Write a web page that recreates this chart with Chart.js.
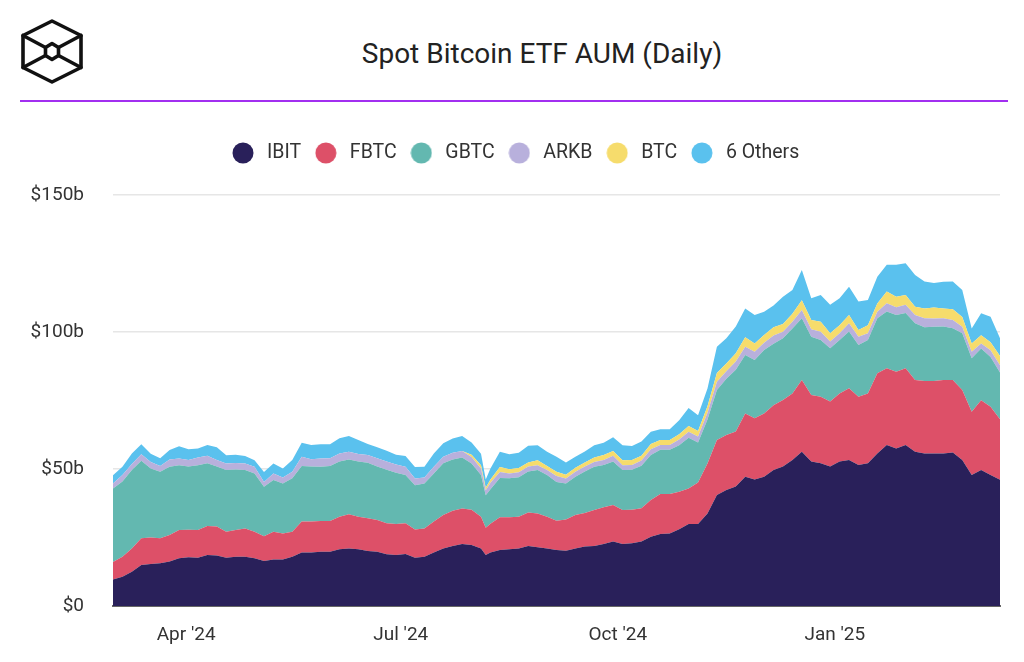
<!DOCTYPE html>
<html>
<head>
<meta charset="utf-8">
<script src="https://cdn.jsdelivr.net/npm/chart.js@4.4.1/dist/chart.umd.min.js"></script>
<style>
  html, body { margin:0; padding:0; background:#fff; width:1024px; height:662px; overflow:hidden; font-family:Roboto, "Noto Sans", sans-serif; }
  #wrap { position:absolute; left:0; top:0; width:1024px; height:662px; }
  #title { position:absolute; left:242px; width:600px; top:37px; line-height:33px; text-align:center; font-size:28px; color:#222; font-weight:400; white-space:nowrap; }
  #rule { position:absolute; left:20px; top:100px; width:988px; height:2px; background:#a22ff0; }
  #logo { position:absolute; left:0; top:0; }
</style>
</head>
<body>
<svg id="logo" width="110" height="100" viewBox="0 0 110 100">
  <g fill="none" stroke="#111" stroke-width="3.6" stroke-linejoin="round" stroke-linecap="round">
    <polygon points="52,21 81,35.5 81,67.5 52,82 23,67.5 23,35.5"/>
    <polygon points="52,43.5 58.5,47.5 58.5,55.5 52,59.5 45.5,55.5 45.5,47.5"/>
    <line x1="23" y1="35.5" x2="45.5" y2="47.5"/>
    <line x1="81" y1="35.5" x2="58.5" y2="47.5"/>
    <line x1="23" y1="67.5" x2="45.5" y2="55.5"/>
    <line x1="81" y1="67.5" x2="58.5" y2="55.5"/>
  </g>
</svg>
<div id="title">Spot Bitcoin ETF AUM (Daily)</div>
<div id="rule"></div>
<div id="wrap"><canvas id="c"></canvas></div>
<script>
// ---------- DATA ----------
const dates = [
 '2024-03-01','2024-03-05','2024-03-09','2024-03-13','2024-03-17','2024-03-21','2024-03-25','2024-03-29','2024-04-02','2024-04-06',
 '2024-04-10','2024-04-14','2024-04-18','2024-04-22','2024-04-26','2024-04-30','2024-05-04','2024-05-08','2024-05-12','2024-05-16',
 '2024-05-20','2024-05-24','2024-05-28','2024-06-01','2024-06-05','2024-06-09','2024-06-13','2024-06-17','2024-06-21','2024-06-25',
 '2024-06-29','2024-07-03','2024-07-07','2024-07-11','2024-07-15','2024-07-19','2024-07-23','2024-07-27','2024-07-31','2024-08-04',
 '2024-08-06',
 '2024-08-08','2024-08-12','2024-08-16','2024-08-20','2024-08-24','2024-08-28','2024-09-01','2024-09-05','2024-09-09','2024-09-13',
 '2024-09-17','2024-09-21','2024-09-25','2024-09-29','2024-10-03','2024-10-07','2024-10-11','2024-10-15','2024-10-19','2024-10-23',
 '2024-10-27','2024-10-31','2024-11-04','2024-11-08','2024-11-12','2024-11-16','2024-11-20','2024-11-24','2024-11-28','2024-12-02',
 '2024-12-06','2024-12-10','2024-12-14','2024-12-18','2024-12-22','2024-12-26','2024-12-30','2025-01-03','2025-01-07','2025-01-11',
 '2025-01-15','2025-01-19','2025-01-23','2025-01-27','2025-01-31','2025-02-04','2025-02-08','2025-02-12','2025-02-16','2025-02-20',
 '2025-02-24','2025-02-28','2025-03-04','2025-03-08','2025-03-12'
];

const seriesNames = ['IBIT','FBTC','GBTC','ARKB','BTC','6 Others'];

const ibit = [9.7,10.7,12.5,15.0,15.3,15.6,16.2,17.4,17.8,17.6, 18.6,18.4,17.6,18.0,18.0,17.4,16.4,17.0,17.0,18.0,
 19.5,19.5,19.8,19.8,20.7,21.0,20.7,20.1,19.8,18.9, 18.6,19.0,17.6,18.0,19.5,21.0,21.9,22.6,22.3,21.0,
 18.6,
 19.5,20.4,20.7,21.0,21.9,21.4,21.0,20.4,20.2,21.0, 21.7,21.9,22.6,23.5,22.6,22.9,23.5,25.3,26.3,26.5,
 28.0,29.9,29.9,33.8,40.5,42.3,43.6,47.2,46.2,47.2, 49.6,50.9,53.3,56.3,52.7,52.1,50.9,52.7,53.3,51.5,
 52.1,55.7,58.8,57.5,58.8,56.3,55.7,55.7,55.7,56.0, 53.3,47.8,49.6,47.8,46.1];

const fbtc = [6.4,7.3,8.5,9.7,9.7,9.1,9.7,10.3,10.0,10.1, 10.6,10.6,9.5,9.7,10.3,9.7,9.1,10.1,9.5,9.1,
 11.3,11.3,11.2,11.2,11.9,12.5,11.9,11.9,11.6,11.3, 11.3,11.2,10.3,10.3,11.3,12.2,12.9,13.0,12.8,11.6,
 10.0,
 10.5,12.0,11.7,11.6,12.2,12.4,11.6,10.7,11.4,12.2, 12.2,13.1,13.4,13.4,12.4,12.2,12.2,13.4,14.6,14.4,
 13.7,13.0,15.2,18.2,20.1,20.1,20.1,23.1,22.3,23.1, 23.7,24.3,24.3,26.2,24.3,24.3,23.7,24.9,26.2,24.9,
 25.5,29.2,28.0,28.0,28.0,26.2,26.4,26.4,26.8,26.5, 25.5,23.1,25.5,24.9,22.1];

const gbtc = [26.8,27.4,28.6,28.3,25.2,24.3,24.9,23.7,23.1,23.7, 22.9,21.9,22.5,22.1,21.3,21.3,18.0,18.9,18.2,19.5,
 20.3,20.1,19.8,20.1,20.1,20.0,20.1,20.3,19.5,19.5, 18.7,17.6,16.2,16.4,17.6,18.9,18.7,18.6,16.9,15.2,
 11.8,
 12.6,14.3,14.2,14.4,15.0,15.8,15.2,14.2,13.1,14.0, 15.2,15.8,15.5,15.8,14.6,14.6,15.5,16.4,16.1,16.1,
 17.0,18.5,14.6,16.1,18.2,20.5,22.5,21.3,21.3,23.1, 22.4,22.5,23.7,22.5,21.3,20.7,19.5,19.5,20.7,18.9,
 19.5,20.1,20.7,20.7,20.1,20.7,19.6,19.8,19.5,18.9, 20.7,19.5,18.9,18.2,17.0];

const arkb = [1.8,2.4,2.2,2.4,2.4,2.1,2.7,2.4,2.4,2.8, 2.7,2.4,2.4,2.4,2.4,2.4,1.8,2.4,2.2,2.4,
 3.4,2.7,3.0,2.8,3.0,2.8,2.8,2.8,3.0,3.0, 3.0,3.0,2.4,2.2,2.4,2.4,2.4,2.4,2.4,2.4,
 1.8,
 2.4,2.2,1.8,1.8,1.8,1.8,1.8,2.1,1.8,1.8, 1.8,1.8,1.8,2.1,1.8,1.8,1.9,2.1,1.8,1.8,
 2.1,2.2,2.2,2.4,3.0,2.8,3.0,3.0,3.0,2.7, 3.0,2.4,2.4,3.0,2.7,3.0,2.4,2.4,3.0,3.0,
 2.4,2.4,3.0,2.8,3.0,3.0,3.3,3.0,3.0,3.0, 2.4,2.4,1.8,2.4,2.7];

const btcMini = [0,0,0,0,0,0,0,0,0,0, 0,0,0,0,0,0,0,0,0,0,
 0,0,0,0,0,0,0,0,0,0, 0,0,0,0,0,0,0,0,0.8,1.2,
 1.0,
 1.2,1.8,1.5,1.6,1.5,1.8,1.5,1.6,1.4,1.5, 1.5,1.6,1.8,1.8,1.8,1.8,1.7,1.9,1.8,1.8,
 1.9,2.1,2.0,2.4,3.2,2.8,3.0,3.5,3.0,2.8, 3.0,2.8,3.0,3.6,3.4,3.6,3.0,3.0,3.0,2.4,
 3.0,3.0,4.3,3.9,3.6,3.0,3.6,4.0,3.6,3.9, 3.6,3.0,3.0,3.0,3.3];

const others = [3.0,3.0,3.9,3.6,3.0,2.8,3.4,4.5,3.9,3.3, 4.0,4.6,3.0,3.0,2.7,2.4,3.6,3.6,3.3,4.3,
 5.1,5.2,5.2,5.1,5.5,5.7,5.1,4.0,4.0,4.0, 3.6,3.9,4.2,3.9,4.9,4.9,5.2,5.4,4.5,4.2,
 3.0,
 4.0,5.6,5.5,5.5,6.1,5.5,5.2,5.5,4.5,4.0, 4.0,4.5,4.5,5.0,5.5,5.1,5.2,4.5,3.9,3.9,
 5.1,6.6,5.7,6.5,9.6,9.2,9.8,10.5,10.4,8.5, 8.0,10.0,8.6,11.0,7.9,9.8,10.4,9.8,10.3,10.4,
 9.2,9.8,9.7,11.6,11.6,11.6,9.8,9.0,9.7,10.1, 9.8,5.5,8.0,9.3,6.5];

const seriesColors = ['#29205a','#dd5068','#63b8b0','#b8b0dc','#f6dc6c','#5ac1ee'];

const xTickDates = ['2024-04-01','2024-07-01','2024-10-01','2025-01-01'];
const xTickLabels = ["Apr '24","Jul '24","Oct '24","Jan '25"];
const yTickValues = [0,50,100,150];
const yTickLabels = ['$0','$50b','$100b','$150b'];

// ---------- BUILD ----------
const T0 = Date.UTC(2024,2,1);
function dayIdx(s){ const p=s.split('-').map(Number); return (Date.UTC(p[0],p[1]-1,p[2]) - T0)/86400000; }
const xs = dates.map(dayIdx);
const xTicks = xTickDates.map(dayIdx);

function dot(color){
  const c = document.createElement('canvas');
  c.width = 22; c.height = 22;
  const g = c.getContext('2d');
  g.fillStyle = color; g.beginPath(); g.arc(11,11,10.5,0,Math.PI*2); g.fill();
  return c;
}

const allSeries = [ibit, fbtc, gbtc, arkb, btcMini, others];
const datasets = allSeries.map((arr,i)=>({
  label: seriesNames[i],
  data: arr.map((v,j)=>({x: xs[j], y: v})),
  backgroundColor: seriesColors[i],
  borderColor: seriesColors[i],
  borderWidth: 0,
  pointRadius: 0,
  pointHoverRadius: 0,
  pointStyle: dot(seriesColors[i]),
  fill: i === 0 ? 'origin' : '-1',
  tension: 0
}));

const legendGap = {
  id: 'legendGap',
  beforeUpdate(chart){
    const lg = chart.legend;
    if (lg && !lg._gapPatched){
      const orig = lg.fit;
      lg.fit = function(){ orig.call(this); this.height += 22.25; };
      lg._gapPatched = true;
    }
  }
};

const FONT = 'Roboto';
new Chart(document.getElementById('c'), {
  type: 'line',
  data: { datasets },
  plugins: [legendGap],
  options: {
    responsive: true,
    maintainAspectRatio: false,
    animation: false,
    layout: { padding: { top: 132.75, left: 28, right: 24, bottom: 0 } },
    plugins: {
      tooltip: { enabled: false },
      legend: {
        position: 'top',
        align: 'center',
        labels: {
          usePointStyle: true,
          pointStyleWidth: 28.5,
          padding: 10.5,
          color: '#333',
          font: { family: FONT, size: 19.5 }
        }
      }
    },
    scales: {
      x: {
        type: 'linear',
        min: 0,
        max: xs[xs.length-1],
        grid: { display: false },
        border: { display: true, color: '#666', width: 2 },
        afterBuildTicks(scale){ scale.ticks = xTicks.map(v=>({value:v})); },
        afterFit(scale){ scale.height = 56; },
        ticks: {
          autoSkip: false, maxRotation: 0, padding: 10,
          color: '#333', font: { family: FONT, size: 19 },
          callback(v){ const k = xTicks.indexOf(v); return k >= 0 ? xTickLabels[k] : ''; }
        }
      },
      y: {
        stacked: true,
        min: 0, max: 150,
        afterBuildTicks(scale){ scale.ticks = yTickValues.map(v=>({value:v})); },
        afterFit(scale){ scale.width = 85; },
        grid: { color: '#e6e6e6', lineWidth: 1.5, drawTicks: false },
        border: { display: false },
        ticks: {
          padding: 29, color: '#333', font: { family: FONT, size: 19 },
          callback(v){ const k = yTickValues.indexOf(v); return k >= 0 ? yTickLabels[k] : ''; }
        }
      }
    }
  }
});
</script>
</body>
</html>
